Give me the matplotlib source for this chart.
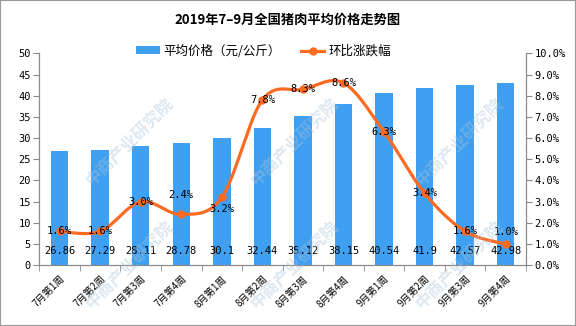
import numpy as np
import matplotlib
matplotlib.use("Agg")
import matplotlib.pyplot as plt
from matplotlib.patches import Rectangle

plt.rcParams["font.family"] = ["Noto Sans CJK SC", "DejaVu Sans"]

weeks = ["7月第1周", "7月第2周", "7月第3周", "7月第4周",
         "8月第1周", "8月第2周", "8月第3周", "8月第4周",
         "9月第1周", "9月第2周", "9月第3周", "9月第4周"]
price = [26.86, 27.29, 28.11, 28.78, 30.1, 32.44, 35.12, 38.15, 40.54, 41.9, 42.57, 42.98]
change = [1.6, 1.6, 3.0, 2.4, 3.2, 7.8, 8.3, 8.6, 6.3, 3.4, 1.6, 1.0]
# vertical nudge of the % labels, in points
pct_dy = [0, 0, 0, 14, -8, 0, 0, 0, 0, 0, 0, 9]

BLUE = "#3f9ff0"
ORANGE = "#fd6a21"
GRAY = "#8a8a8a"
MONO = "DejaVu Sans Mono"


def smooth(x, y, n=30):
    # catmull-rom, like Excel's "smoothed line"
    x = np.asarray(x, float); y = np.asarray(y, float)
    px = np.r_[x[0], x, x[-1]]; py = np.r_[y[0], y, y[-1]]
    t = np.linspace(0, 1, n)[:, None]
    xs, ys = [], []
    for i in range(1, len(px) - 2):
        for arr, out in ((px, xs), (py, ys)):
            p0, p1, p2, p3 = arr[i - 1], arr[i], arr[i + 1], arr[i + 2]
            seg = 0.5 * (2 * p1 + (-p0 + p2) * t + (2 * p0 - 5 * p1 + 4 * p2 - p3) * t ** 2
                         + (-p0 + 3 * p1 - 3 * p2 + p3) * t ** 3)
            out.append(seg.ravel())
    return np.concatenate(xs), np.concatenate(ys)


fig = plt.figure(figsize=(5.76, 3.26), dpi=100)
ax = fig.add_axes([0.0682, 0.1862, 0.845, 0.6503])
ax2 = ax.twinx()

x = np.arange(len(weeks))
ax.bar(x, price, width=0.43, color=BLUE, zorder=2, label="平均价格（元/公斤）")
for xi, v in zip(x, price):
    ax.text(xi, 3.4, f"{v:g}", ha="center", va="center", fontsize=7.5,
            family=MONO, zorder=3)

sx, sy = smooth(x, change)
ax2.plot(sx, sy, color=ORANGE, lw=2.3, zorder=3, solid_capstyle="round")
ax2.plot(x, change, "o", color=ORANGE, ms=5, zorder=4)
ax2.plot([], [], color=ORANGE, lw=2.3, marker="o", ms=5, label="环比涨跌幅")
for xi, v, dy in zip(x, change, pct_dy):
    ax2.annotate(f"{v:.1f}%", (xi, v), xytext=(0, dy), textcoords="offset points",
                 ha="center", va="center", fontsize=7.5, family=MONO, zorder=5)

ax.set_xlim(-0.5, len(weeks) - 0.5)
ax.set_ylim(0, 50)
ax.set_yticks(np.arange(0, 51, 5))
ax2.set_ylim(0, 10)
ax2.set_yticks(np.arange(0, 10.1, 1))
ax2.set_yticklabels([f"{v:.1f}%" for v in np.arange(0, 10.1, 1)])

ax.set_xticks(x)
ax.set_xticklabels(weeks, rotation=45, ha="right", rotation_mode="anchor", fontsize=7)
ax.set_xticks(np.arange(-0.5, len(weeks), 1), minor=True)
ax.tick_params(axis="x", which="major", length=0, pad=6)
ax.tick_params(axis="x", which="minor", length=4, color=GRAY)
ax.tick_params(axis="y", length=4, color=GRAY, labelsize=7.5, pad=2)
ax2.tick_params(axis="y", length=4, color=GRAY, labelsize=7.5, pad=2)
for lab in ax.get_yticklabels() + ax2.get_yticklabels():
    lab.set_family(MONO)

for a in (ax, ax2):
    a.spines["top"].set_visible(False)
    for s in ("left", "right", "bottom"):
        a.spines[s].set_color(GRAY)

h1, l1 = ax.get_legend_handles_labels()
h2, l2 = ax2.get_legend_handles_labels()
fig.legend(h1 + h2, l1 + l2, loc="center", bbox_to_anchor=(0.457, 0.843), ncol=2,
           frameon=False, fontsize=9, handlelength=1.9, handleheight=0.6,
           columnspacing=1.6, handletextpad=0.3)

fig.text(0.5, 0.938, "2019年7–9月全国猪肉平均价格走势图", ha="center", va="center",
         fontsize=9.5, weight="bold")

# faint watermark grid (only the ones that sit fully inside the frame)
for lx in (70, 235, 400):
    for ly in (197, 320):
        fig.text((lx + 60) / 576, 1 - (ly - 55) / 326, "中商产业研究院", rotation=45,
                 ha="center", va="center", fontsize=12, weight="bold",
                 color="#a9c4da", alpha=0.4, zorder=10)

fig.patches.append(Rectangle((0, 0), 1, 1, transform=fig.transFigure, fill=False,
                             ec="#9a9a9a", lw=1.5))

fig.savefig("out.png", dpi=100)
